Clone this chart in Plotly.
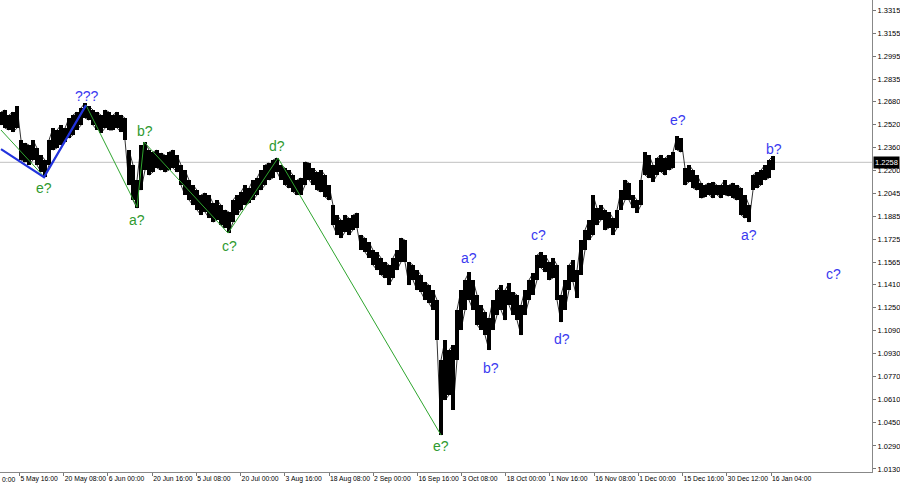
import plotly.graph_objects as go

# ---------------- data ----------------
bar_high = [1.2607,1.2621,1.2586,1.2607,1.2648,1.2412,1.2391,1.2378,1.2412,1.2357,1.2308,1.2274,1.2412,1.2495,1.2482,1.2516,1.2495,1.2565,1.2586,1.2607,
            1.2635,1.2669,1.2648,1.2621,1.2607,1.2586,1.2621,1.2607,1.2586,1.2607,1.2586,1.2565,1.2343,1.2239,1.2135,1.2378,1.2398,1.2343,1.2329,1.2343,
            1.2322,1.2308,1.2329,1.2343,1.2308,1.2239,1.2204,1.2135,1.2100,1.2065,1.2031,1.2045,1.2031,1.1975,1.1996,1.1961,1.1927,1.1913,1.1996,1.2031,
            1.2052,1.2100,1.2079,1.2135,1.2149,1.2204,1.2239,1.2253,1.2274,1.2288,1.2239,1.2218,1.2204,1.2169,1.2135,1.2149,1.2260,1.2253,1.2218,1.2190,
            1.2204,1.2169,1.2100,1.1961,1.1892,1.1857,1.1892,1.1871,1.1892,1.1906,1.1753,1.1732,1.1704,1.1649,1.1635,1.1594,1.1566,1.1545,1.1594,1.1649,
            1.1732,1.1718,1.1566,1.1545,1.1510,1.1476,1.1427,1.1406,1.1371,1.1302,1.0886,1.1024,1.0955,1.0990,1.1233,1.1371,1.1441,1.1496,1.1441,1.1337,
            1.1267,1.1219,1.1177,1.1302,1.1371,1.1406,1.1371,1.1420,1.1357,1.1337,1.1267,1.1371,1.1441,1.1489,1.1614,1.1635,1.1614,1.1566,1.1594,1.1545,
            1.1337,1.1441,1.1545,1.1580,1.1510,1.1718,1.1788,1.1857,1.2031,1.1940,1.1961,1.1927,1.1913,1.1871,1.1927,1.2065,1.2135,1.2114,1.2031,1.1996,
            1.2135,1.2329,1.2308,1.2239,1.2288,1.2308,1.2288,1.2308,1.2329,1.2440,1.2426,1.2218,1.2239,1.2204,1.2169,1.2114,1.2100,1.2114,1.2121,1.2100,
            1.2100,1.2135,1.2100,1.2114,1.2100,1.2079,1.2031,1.1961,1.2169,1.2190,1.2204,1.2239,1.2274,1.2302]
bar_low = [1.2516,1.2495,1.2482,1.2468,1.2495,1.2274,1.2260,1.2239,1.2274,1.2239,1.2190,1.2155,1.2239,1.2343,1.2357,1.2378,1.2398,1.2426,1.2447,1.2482,
           1.2516,1.2565,1.2551,1.2516,1.2482,1.2461,1.2495,1.2482,1.2482,1.2495,1.2468,1.2412,1.2100,1.1996,1.1940,1.2065,1.2204,1.2169,1.2190,1.2218,
           1.2204,1.2190,1.2204,1.2218,1.2190,1.2100,1.2031,1.1996,1.1961,1.1927,1.1892,1.1913,1.1871,1.1843,1.1857,1.1822,1.1802,1.1767,1.1843,1.1892,
           1.1927,1.1961,1.1975,1.1996,1.2031,1.2065,1.2100,1.2135,1.2149,1.2190,1.2135,1.2100,1.2079,1.2052,1.2031,1.2031,1.2100,1.2135,1.2100,1.2065,
           1.2052,1.2017,1.1996,1.1822,1.1753,1.1732,1.1774,1.1753,1.1788,1.1802,1.1649,1.1635,1.1594,1.1545,1.1510,1.1476,1.1455,1.1406,1.1455,1.1510,
           1.1566,1.1566,1.1406,1.1441,1.1371,1.1357,1.1302,1.1281,1.1233,1.1024,1.0365,1.0608,1.0643,1.0539,1.0886,1.1094,1.1233,1.1302,1.1233,1.1129,
           1.1094,1.1059,1.0955,1.1094,1.1198,1.1233,1.1163,1.1267,1.1198,1.1163,1.1059,1.1198,1.1302,1.1337,1.1441,1.1524,1.1496,1.1441,1.1455,1.1302,
           1.1149,1.1233,1.1371,1.1427,1.1316,1.1476,1.1649,1.1718,1.1753,1.1822,1.1857,1.1788,1.1802,1.1753,1.1802,1.1927,1.1996,1.1996,1.1940,1.1906,
           1.1961,1.2169,1.2149,1.2121,1.2169,1.2190,1.2169,1.2204,1.2218,1.2343,1.2329,1.2100,1.2121,1.2079,1.2065,1.2010,1.2017,1.2031,1.2010,1.2031,
           1.2010,1.2031,1.2024,1.2010,1.1996,1.1892,1.1871,1.1843,1.2065,1.2079,1.2100,1.2135,1.2149,1.2204]
last_price = 1.2258

# wave counts (bar index, price)
green_wave_x = [0, 10.75, 21.25, 34, 35.75, 56.75, 69.25, 110]
green_wave_y = [1.2482, 1.2158, 1.2655, 1.1947, 1.2399, 1.1767, 1.2288, 1.0365]
blue_wave_x = [0, 10.75, 21.25]
blue_wave_y = [1.2350, 1.2155, 1.2655]

green_labels = ["e?", "a?", "b?", "c?", "d?", "e?"]
green_label_x = [10.75, 34, 36, 57, 69, 110]
green_label_y = [1.2079, 1.1857, 1.2475, 1.1677, 1.2371, 1.0289]
blue_labels = ["???", "a?", "b?", "c?", "d?", "e?", "a?", "b?", "c?"]
blue_label_x = [21.5, 117, 122.5, 134.25, 140.25, 169.25, 187, 193.25, 208]
blue_label_y = [1.2718, 1.1593, 1.0830, 1.1753, 1.1031, 1.2551, 1.1753, 1.2350, 1.1482]

price_ticks = [1.3315, 1.3155, 1.2995, 1.2835, 1.2680, 1.2520, 1.2360, 1.2200, 1.2045, 1.1885, 1.1725,
               1.1565, 1.1410, 1.1250, 1.1090, 1.0930, 1.0770, 1.0610, 1.0450, 1.0290, 1.0130]
time_tick_labels = ["5 May 16:00", "20 May 08:00", "6 Jun 00:00", "20 Jun 16:00", "5 Jul 08:00", "20 Jul 00:00",
                    "3 Aug 16:00", "18 Aug 08:00", "2 Sep 00:00", "16 Sep 16:00", "3 Oct 08:00", "18 Oct 00:00",
                    "1 Nov 16:00", "16 Nov 08:00", "1 Dec 00:00", "15 Dec 16:00", "30 Dec 12:00", "16 Jan 04:00"]
time_tick_pos = [4.6, 15.7, 26.7, 37.8, 48.8, 59.9, 70.9, 82.0, 93.0, 104.1, 115.1, 126.2,
                 137.2, 148.3, 159.3, 170.4, 181.4, 192.5]

# ---------------- figure ----------------
GREEN = "#2ea52e"
GREEN_TXT = "#2f9a2f"
BLUE = "#2233dd"
BLUE_TXT = "#3a3af0"
AX_FONT = "Liberation Sans, Arial, sans-serif"

idx = list(range(len(bar_high)))
rng = [h - l for h, l in zip(bar_high, bar_low)]

fig = go.Figure()
# high-low bars
fig.add_trace(go.Bar(x=idx, y=rng, base=bar_low, width=0.85,
                     marker=dict(color="black", line=dict(width=0)),
                     hoverinfo="skip", showlegend=False))
# thin connecting trace through the bars
px, py = [], []
for i, (h, l) in enumerate(zip(bar_high, bar_low)):
    px += [i, i]
    py += [l, h] if i % 2 == 0 else [h, l]
fig.add_trace(go.Scatter(x=px, y=py, mode="lines", line=dict(color="black", width=0.8),
                         hoverinfo="skip", showlegend=False))

fig.add_trace(go.Scatter(x=green_wave_x, y=green_wave_y, mode="lines",
                         line=dict(color=GREEN, width=1), showlegend=False, hoverinfo="skip"))
fig.add_trace(go.Scatter(x=blue_wave_x, y=blue_wave_y, mode="lines",
                         line=dict(color=BLUE, width=2.2), showlegend=False, hoverinfo="skip"))

fig.add_hline(y=last_price, line=dict(color="#c0c0c0", width=1), layer="below")

lab_font = "Liberation Sans, Arial, sans-serif"
for t, x, y in zip(green_labels, green_label_x, green_label_y):
    fig.add_annotation(x=x, y=y, text=t, showarrow=False,
                       font=dict(family=lab_font, size=14, color=GREEN_TXT))
for t, x, y in zip(blue_labels, blue_label_x, blue_label_y):
    fig.add_annotation(x=x, y=y, text=t, showarrow=False,
                       font=dict(family=lab_font, size=14, color=BLUE_TXT))

# current price box on the axis
fig.add_annotation(xref="paper", x=1.0, xanchor="left", xshift=1, y=last_price, yref="y",
                   text="1.2258", showarrow=False, bgcolor="black", borderpad=1,
                   font=dict(family=AX_FONT, size=7.5, color="white"))
# partially cut label at the left edge
fig.add_annotation(xref="paper", x=0, xanchor="left", yref="paper", y=0, yanchor="top", yshift=-2,
                   text="0:00", showarrow=False,
                   font=dict(family=AX_FONT, size=6.8, color="black"))

fig.update_layout(
    width=900, height=485,
    margin=dict(l=0, r=28, t=0, b=13),
    paper_bgcolor="white", plot_bgcolor="white",
    showlegend=False, bargap=0,
    xaxis=dict(range=[-0.25, 217.75], showgrid=False, zeroline=False,
               tickmode="array", tickvals=time_tick_pos, ticktext=time_tick_labels,
               ticks="outside", ticklen=3, tickcolor="#777", tickangle=0,
               ticklabelposition="outside right",
               tickfont=dict(family=AX_FONT, size=6.8, color="black"),
               showline=True, linecolor="#888", linewidth=1),
    yaxis=dict(range=[1.01087, 1.33844], side="right", showgrid=False, zeroline=False,
               tickmode="array", tickvals=price_ticks, ticktext=[f"{v:.4f}" for v in price_ticks],
               ticks="outside", ticklen=3, tickcolor="#777",
               tickfont=dict(family=AX_FONT, size=7.5, color="black"),
               showline=True, linecolor="#888", linewidth=1),
)

fig.write_html("out.html", config={"displayModeBar": False},
               post_script="document.body.style.margin='0';document.body.style.padding='0';"
                           "document.body.style.overflow='hidden';")
